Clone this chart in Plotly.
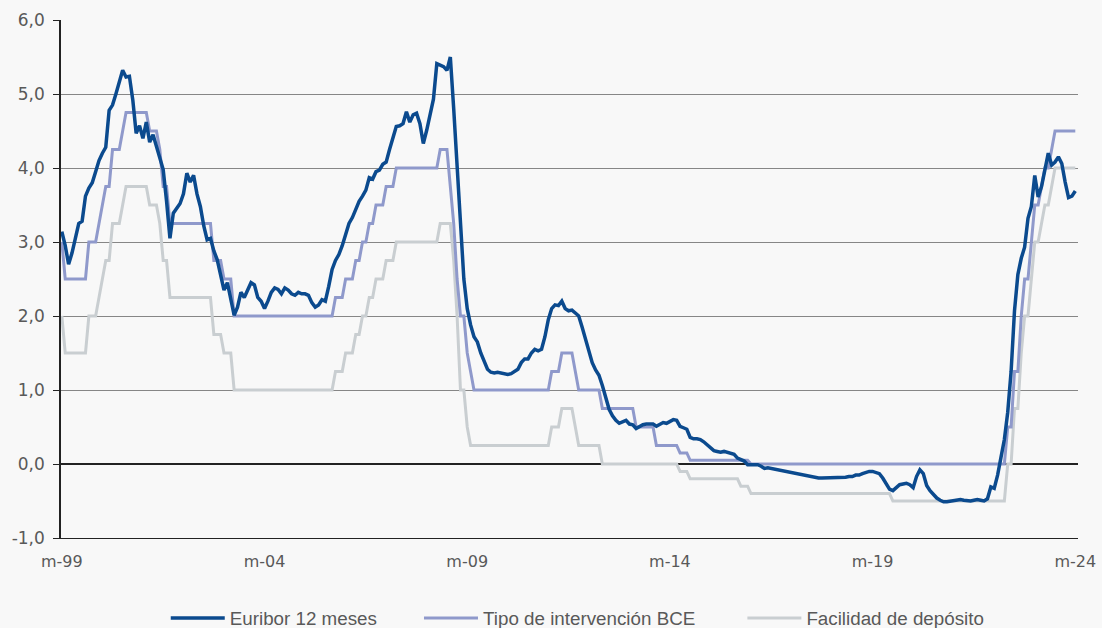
import plotly.graph_objects as go
import pandas as pd

# Monthly observations, March 1999 to March 2024
months = pd.date_range("1999-03-01", "2024-03-01", freq="MS")
month_idx = list(range(len(months)))

tick_idx = [0, 60, 120, 180, 240, 300]
tick_labels = ["m-99", "m-04", "m-09", "m-14", "m-19", "m-24"]
y_ticks = [-1, 0, 1, 2, 3, 4, 5, 6]
y_tick_labels = ["-1,0", "0,0", "1,0", "2,0", "3,0", "4,0", "5,0", "6,0"]

euribor = (
    [3.14, 2.95, 2.70, 2.85, 3.05, 3.25, 3.28, 3.62, 3.73, 3.80]  # 1999 (Mar-Dec)
    + [3.95, 4.10, 4.20, 4.28, 4.78, 4.85, 5.00, 5.15, 5.32, 5.23, 5.24, 4.92]  # 2000
    + [4.47, 4.57, 4.40, 4.62, 4.35, 4.45, 4.30, 4.12, 3.98, 3.55, 3.05, 3.39]  # 2001
    + [3.45, 3.52, 3.65, 3.93, 3.81, 3.90, 3.65, 3.48, 3.22, 3.03, 3.05, 2.88]  # 2002
    + [2.76, 2.53, 2.35, 2.45, 2.22, 2.01, 2.12, 2.32, 2.25, 2.35, 2.45, 2.42]  # 2003
    + [2.25, 2.20, 2.10, 2.20, 2.32, 2.38, 2.36, 2.30, 2.38, 2.35, 2.30, 2.28]  # 2004
    + [2.32, 2.30, 2.30, 2.28, 2.18, 2.12, 2.15, 2.22, 2.20, 2.40, 2.63, 2.75]  # 2005
    + [2.83, 2.95, 3.10, 3.25, 3.33, 3.45, 3.55, 3.62, 3.70, 3.87, 3.85, 3.95]  # 2006
    + [3.97, 4.05, 4.08, 4.25, 4.40, 4.56, 4.57, 4.60, 4.76, 4.62, 4.72, 4.74]  # 2007
    + [4.60, 4.33, 4.51, 4.72, 4.93, 5.41, 5.39, 5.37, 5.32, 5.50, 4.80, 4.00]  # 2008
    + [3.20, 2.50, 2.10, 1.88, 1.72, 1.65, 1.50, 1.38, 1.28, 1.24, 1.23, 1.24]  # 2009
    + [1.23, 1.23, 1.21, 1.22, 1.25, 1.28, 1.37, 1.42, 1.42, 1.50, 1.55, 1.53]  # 2010
    + [1.55, 1.72, 1.95, 2.10, 2.15, 2.14, 2.20, 2.10, 2.07, 2.08, 2.04, 2.00]  # 2011
    + [1.85, 1.68, 1.50, 1.37, 1.27, 1.20, 1.06, 0.88, 0.74, 0.65, 0.59, 0.55]  # 2012
    + [0.57, 0.59, 0.54, 0.53, 0.48, 0.51, 0.53, 0.54, 0.54, 0.54, 0.51, 0.54]  # 2013
    + [0.56, 0.55, 0.58, 0.60, 0.59, 0.51, 0.49, 0.47, 0.36, 0.34, 0.34, 0.33]  # 2014
    + [0.30, 0.26, 0.21, 0.18, 0.17, 0.16, 0.17, 0.16, 0.15, 0.13, 0.08, 0.06]  # 2015
    + [0.04, -0.01, -0.01, -0.01, -0.01, -0.03, -0.06, -0.05, -0.06, -0.07, -0.07, -0.08]  # 2016
    + [-0.10, -0.11, -0.11, -0.12, -0.13, -0.15, -0.15, -0.16, -0.17, -0.18, -0.19, -0.19]  # 2017
    + [-0.19, -0.19, -0.19, -0.19, -0.19, -0.18, -0.18, -0.17, -0.17, -0.15, -0.15, -0.13]  # 2018
    + [-0.11, -0.10, -0.10, -0.11, -0.13, -0.19, -0.27, -0.34, -0.36, -0.32, -0.28, -0.27]  # 2019
    + [-0.26, -0.28, -0.32, -0.17, -0.08, -0.13, -0.29, -0.36, -0.41, -0.46, -0.49, -0.51]  # 2020
    + [-0.51, -0.50, -0.49, -0.49, -0.48, -0.49, -0.50, -0.50, -0.49, -0.48, -0.49, -0.50]  # 2021
    + [-0.47, -0.31, -0.33, -0.15, 0.09, 0.33, 0.70, 1.25, 2.07, 2.56, 2.78, 2.93]  # 2022
    + [3.32, 3.48, 3.90, 3.61, 3.75, 3.97, 4.20, 4.04, 4.08, 4.15, 4.06, 3.81]  # 2023
    + [3.60, 3.62, 3.69]  # 2024 (Jan-Mar)
)

tipo_bce = (
    [3.00, 2.50, 2.50, 2.50, 2.50, 2.50, 2.50, 2.50, 3.00, 3.00]  # 1999
    + [3.00, 3.25, 3.50, 3.75, 3.75, 4.25, 4.25, 4.25, 4.50, 4.75, 4.75, 4.75]  # 2000
    + [4.75, 4.75, 4.75, 4.75, 4.50, 4.50, 4.50, 4.25, 3.75, 3.75, 3.25, 3.25]  # 2001
    + [3.25, 3.25, 3.25, 3.25, 3.25, 3.25, 3.25, 3.25, 3.25, 3.25, 3.25, 2.75]  # 2002
    + [2.75, 2.75, 2.50, 2.50, 2.50, 2.00, 2.00, 2.00, 2.00, 2.00, 2.00, 2.00]  # 2003
    + [2.00, 2.00, 2.00, 2.00, 2.00, 2.00, 2.00, 2.00, 2.00, 2.00, 2.00, 2.00]  # 2004
    + [2.00, 2.00, 2.00, 2.00, 2.00, 2.00, 2.00, 2.00, 2.00, 2.00, 2.00, 2.25]  # 2005
    + [2.25, 2.25, 2.50, 2.50, 2.50, 2.75, 2.75, 3.00, 3.00, 3.25, 3.25, 3.50]  # 2006
    + [3.50, 3.50, 3.75, 3.75, 3.75, 4.00, 4.00, 4.00, 4.00, 4.00, 4.00, 4.00]  # 2007
    + [4.00, 4.00, 4.00, 4.00, 4.00, 4.00, 4.25, 4.25, 4.25, 3.75, 3.25, 2.50]  # 2008
    + [2.00, 2.00, 1.50, 1.25, 1.00, 1.00, 1.00, 1.00, 1.00, 1.00, 1.00, 1.00]  # 2009
    + [1.00, 1.00, 1.00, 1.00, 1.00, 1.00, 1.00, 1.00, 1.00, 1.00, 1.00, 1.00]  # 2010
    + [1.00, 1.00, 1.00, 1.25, 1.25, 1.25, 1.50, 1.50, 1.50, 1.50, 1.25, 1.00]  # 2011
    + [1.00, 1.00, 1.00, 1.00, 1.00, 1.00, 0.75, 0.75, 0.75, 0.75, 0.75, 0.75]  # 2012
    + [0.75, 0.75, 0.75, 0.75, 0.50, 0.50, 0.50, 0.50, 0.50, 0.50, 0.25, 0.25]  # 2013
    + [0.25, 0.25, 0.25, 0.25, 0.25, 0.15, 0.15, 0.15, 0.05, 0.05, 0.05, 0.05]  # 2014
    + [0.05, 0.05, 0.05, 0.05, 0.05, 0.05, 0.05, 0.05, 0.05, 0.05, 0.05, 0.05]  # 2015
    + [0.05, 0.05, 0.00, 0.00, 0.00, 0.00, 0.00, 0.00, 0.00, 0.00, 0.00, 0.00]  # 2016
    + [0.00, 0.00, 0.00, 0.00, 0.00, 0.00, 0.00, 0.00, 0.00, 0.00, 0.00, 0.00]  # 2017
    + [0.00, 0.00, 0.00, 0.00, 0.00, 0.00, 0.00, 0.00, 0.00, 0.00, 0.00, 0.00]  # 2018
    + [0.00, 0.00, 0.00, 0.00, 0.00, 0.00, 0.00, 0.00, 0.00, 0.00, 0.00, 0.00]  # 2019
    + [0.00, 0.00, 0.00, 0.00, 0.00, 0.00, 0.00, 0.00, 0.00, 0.00, 0.00, 0.00]  # 2020
    + [0.00, 0.00, 0.00, 0.00, 0.00, 0.00, 0.00, 0.00, 0.00, 0.00, 0.00, 0.00]  # 2021
    + [0.00, 0.00, 0.00, 0.00, 0.00, 0.00, 0.50, 0.50, 1.25, 1.25, 2.00, 2.50]  # 2022
    + [2.50, 3.00, 3.50, 3.50, 3.75, 4.00, 4.00, 4.25, 4.50, 4.50, 4.50, 4.50]  # 2023
    + [4.50, 4.50, 4.50]  # 2024
)

facilidad_deposito = (
    [2.00, 1.50, 1.50, 1.50, 1.50, 1.50, 1.50, 1.50, 2.00, 2.00]  # 1999
    + [2.00, 2.25, 2.50, 2.75, 2.75, 3.25, 3.25, 3.25, 3.50, 3.75, 3.75, 3.75]  # 2000
    + [3.75, 3.75, 3.75, 3.75, 3.50, 3.50, 3.50, 3.25, 2.75, 2.75, 2.25, 2.25]  # 2001
    + [2.25, 2.25, 2.25, 2.25, 2.25, 2.25, 2.25, 2.25, 2.25, 2.25, 2.25, 1.75]  # 2002
    + [1.75, 1.75, 1.50, 1.50, 1.50, 1.00, 1.00, 1.00, 1.00, 1.00, 1.00, 1.00]  # 2003
    + [1.00, 1.00, 1.00, 1.00, 1.00, 1.00, 1.00, 1.00, 1.00, 1.00, 1.00, 1.00]  # 2004
    + [1.00, 1.00, 1.00, 1.00, 1.00, 1.00, 1.00, 1.00, 1.00, 1.00, 1.00, 1.25]  # 2005
    + [1.25, 1.25, 1.50, 1.50, 1.50, 1.75, 1.75, 2.00, 2.00, 2.25, 2.25, 2.50]  # 2006
    + [2.50, 2.50, 2.75, 2.75, 2.75, 3.00, 3.00, 3.00, 3.00, 3.00, 3.00, 3.00]  # 2007
    + [3.00, 3.00, 3.00, 3.00, 3.00, 3.00, 3.25, 3.25, 3.25, 3.25, 2.75, 2.00]  # 2008
    + [1.00, 1.00, 0.50, 0.25, 0.25, 0.25, 0.25, 0.25, 0.25, 0.25, 0.25, 0.25]  # 2009
    + [0.25, 0.25, 0.25, 0.25, 0.25, 0.25, 0.25, 0.25, 0.25, 0.25, 0.25, 0.25]  # 2010
    + [0.25, 0.25, 0.25, 0.50, 0.50, 0.50, 0.75, 0.75, 0.75, 0.75, 0.50, 0.25]  # 2011
    + [0.25, 0.25, 0.25, 0.25, 0.25, 0.25, 0.00, 0.00, 0.00, 0.00, 0.00, 0.00]  # 2012
    + [0.00, 0.00, 0.00, 0.00, 0.00, 0.00, 0.00, 0.00, 0.00, 0.00, 0.00, 0.00]  # 2013
    + [0.00, 0.00, 0.00, 0.00, 0.00, -0.10, -0.10, -0.10, -0.20, -0.20, -0.20, -0.20]  # 2014
    + [-0.20, -0.20, -0.20, -0.20, -0.20, -0.20, -0.20, -0.20, -0.20, -0.20, -0.20, -0.30]  # 2015
    + [-0.30, -0.30, -0.40, -0.40, -0.40, -0.40, -0.40, -0.40, -0.40, -0.40, -0.40, -0.40]  # 2016
    + [-0.40, -0.40, -0.40, -0.40, -0.40, -0.40, -0.40, -0.40, -0.40, -0.40, -0.40, -0.40]  # 2017
    + [-0.40, -0.40, -0.40, -0.40, -0.40, -0.40, -0.40, -0.40, -0.40, -0.40, -0.40, -0.40]  # 2018
    + [-0.40, -0.40, -0.40, -0.40, -0.40, -0.40, -0.40, -0.40, -0.50, -0.50, -0.50, -0.50]  # 2019
    + [-0.50, -0.50, -0.50, -0.50, -0.50, -0.50, -0.50, -0.50, -0.50, -0.50, -0.50, -0.50]  # 2020
    + [-0.50, -0.50, -0.50, -0.50, -0.50, -0.50, -0.50, -0.50, -0.50, -0.50, -0.50, -0.50]  # 2021
    + [-0.50, -0.50, -0.50, -0.50, -0.50, -0.50, 0.00, 0.00, 0.75, 0.75, 1.50, 2.00]  # 2022
    + [2.00, 2.50, 3.00, 3.00, 3.25, 3.50, 3.50, 3.75, 4.00, 4.00, 4.00, 4.00]  # 2023
    + [4.00, 4.00, 4.00]  # 2024
)

series_names = ["Euribor 12 meses", "Tipo de intervención BCE", "Facilidad de depósito"]

BG = "#f8f8f8"
TEXT = "#595959"
C_EUR = "#0b4a8e"
C_BCE = "#8f99cb"
C_DEP = "#c9ced1"

fig = go.Figure()
fig.add_trace(go.Scatter(x=month_idx, y=facilidad_deposito, mode="lines", name=series_names[2],
                         line=dict(color=C_DEP, width=3), legend="legend3"))
fig.add_trace(go.Scatter(x=month_idx, y=tipo_bce, mode="lines", name=series_names[1],
                         line=dict(color=C_BCE, width=3), legend="legend2"))
fig.add_trace(go.Scatter(x=month_idx, y=euribor, mode="lines", name=series_names[0],
                         line=dict(color=C_EUR, width=3.5), legend="legend"))

xr = [-0.25, 300.8]
leg_font = dict(family="Liberation Sans, Arial, sans-serif", size=18.8, color=TEXT)
leg_common = dict(orientation="h", yanchor="middle", xanchor="left", y=-0.155,
                  font=leg_font, bgcolor="rgba(0,0,0,0)", itemwidth=54)

fig.update_layout(
    width=1102, height=628,
    paper_bgcolor=BG, plot_bgcolor=BG,
    margin=dict(l=61, r=24, t=20, b=90, autoexpand=False),
    showlegend=True,
    legend=dict(x=0.103, **leg_common),
    legend2=dict(x=0.352, **leg_common),
    legend3=dict(x=0.670, **leg_common),
    xaxis=dict(
        range=xr, tickmode="array", tickvals=tick_idx, ticktext=tick_labels,
        showgrid=False, zeroline=False, showline=True, linecolor="#222222", linewidth=1.3,
        ticks="", ticklabelstandoff=9, automargin=False,
        tickfont=dict(family="DejaVu Sans", size=16, color=TEXT),
    ),
    xaxis2=dict(
        range=xr, overlaying="x", anchor="free", position=1/7, side="bottom",
        tickmode="array", tickvals=tick_idx, showticklabels=False,
        ticks="outside", ticklen=5, tickcolor="#222222", tickwidth=1,
        showgrid=False, zeroline=False, showline=False, automargin=False,
    ),
    yaxis=dict(
        range=[-1, 6], tickmode="array", tickvals=y_ticks, ticktext=y_tick_labels,
        showgrid=True, gridcolor="#868686", gridwidth=1,
        zeroline=True, zerolinecolor="#222222", zerolinewidth=1.5,
        showline=True, linecolor="#222222", linewidth=1.5,
        ticks="outside", ticklen=6, tickcolor="#222222",
        ticklabelstandoff=5, automargin=False,
        tickfont=dict(family="DejaVu Sans", size=17, color=TEXT),
    ),
)

fig.write_html(
    "out.html",
    config={"displayModeBar": False},
    post_script="document.body.style.margin='0';document.body.style.padding='0';",
)
